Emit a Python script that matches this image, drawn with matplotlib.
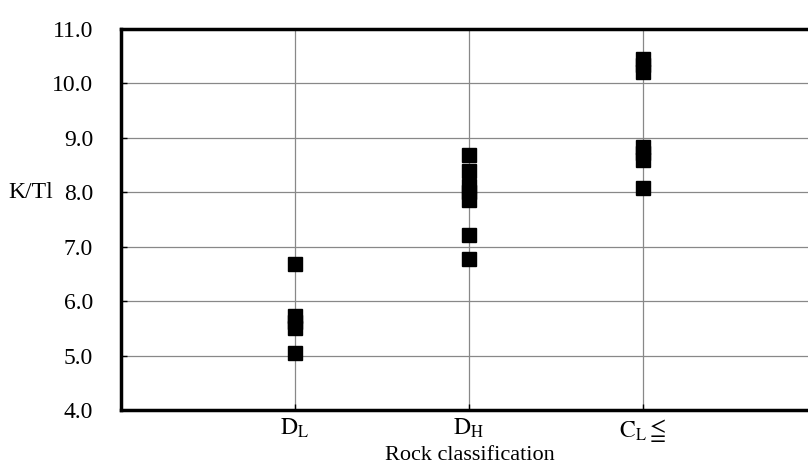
import numpy as np
import matplotlib
matplotlib.use("Agg")
import matplotlib.pyplot as plt

plt.rcParams['font.family'] = ['Liberation Serif', 'DejaVu Serif']
plt.rcParams['mathtext.fontset'] = 'stix'

# data
categories = [r'$\mathrm{D}_\mathrm{L}$', r'$\mathrm{D}_\mathrm{H}$', r'$\mathrm{C}_\mathrm{L}\leqq$']
dl_vals = [6.69, 5.72, 5.62, 5.50, 5.04]
dh_vals = [8.68, 8.39, 8.12, 8.00, 7.86, 7.21, 6.78]
cl_vals = [10.45, 10.34, 10.21, 8.83, 8.72, 8.60, 8.07]
yticks = [4.0, 5.0, 6.0, 7.0, 8.0, 9.0, 10.0, 11.0]

fig = plt.figure(figsize=(8.08, 4.72), dpi=100)
ax = fig.add_axes([121/808, 62/472, 696/808, 381/472])

for i, vals in enumerate([dl_vals, dh_vals, cl_vals]):
    ax.plot([i + 1] * len(vals), vals, 's', color='black', markersize=9.5,
            zorder=3, clip_on=False)

ax.set_xlim(0, 4)
ax.set_ylim(4, 11)
ax.set_yticks(yticks)
ax.set_yticklabels(['%.1f' % v for v in yticks])
ax.set_xticks([1, 2, 3])
ax.set_xticklabels(categories)
ax.grid(True, color='#888888', linewidth=0.9)
ax.set_axisbelow(True)

ax.tick_params(direction='in', length=4, width=1, labelsize=17)
ax.tick_params(axis='y', pad=20)
ax.tick_params(axis='x', pad=5)
for s in ['left', 'bottom', 'top']:
    ax.spines[s].set_linewidth(2.5)
ax.spines['right'].set_visible(False)

fig.text(470/808, 1 - 455/472, 'Rock classification', fontsize=16,
         ha='center', va='center')
fig.text(8/808, 1 - 193/472, 'K/Tl', fontsize=17, va='center', ha='left')

fig.savefig('out.png', dpi=100)
